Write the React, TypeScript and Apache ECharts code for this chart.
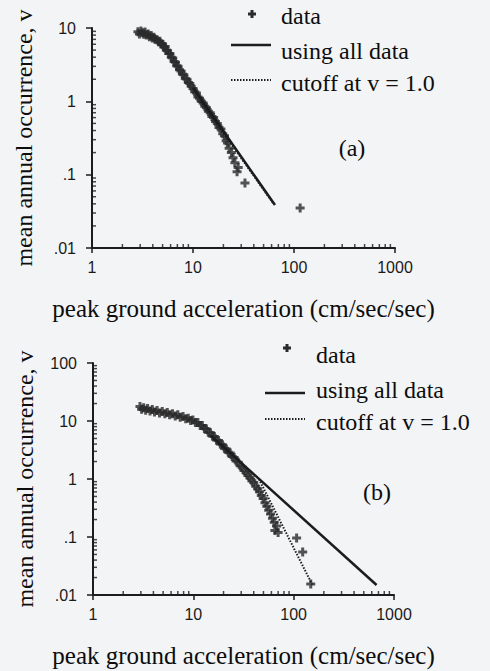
import React, { useEffect, useRef } from "react";
import * as echarts from "echarts";

// ---- Panel (a) data: peak ground acceleration (cm/sec/sec) vs mean annual occurrence ----
const topAccel = [
  2.85, 2.95, 3.05, 3.15, 3.25, 3.35, 3.45, 3.6, 3.7, 3.85, 3.95, 4.1, 4.2, 4.4, 4.55, 4.7,
  4.85, 5.0, 5.15, 5.3, 5.45, 5.6, 5.75, 5.9, 6.1, 6.3, 6.5, 6.7, 6.9, 7.1, 7.35, 7.6, 7.85,
  8.1, 8.4, 8.7, 9.0, 9.3, 9.6, 10.0, 10.4, 10.8, 11.2, 11.6, 12.1, 12.6, 13.1, 13.6, 14.2,
  14.8, 15.4, 16.0, 16.7, 17.4, 18.1, 18.9, 19.7, 20.5, 21.3, 22.0, 22.8, 24.0, 24.9, 26.0,
  27.3, 28.0, 32.7, 115,
];
const topRate = [
  8.9, 8.3, 9.1, 8.6, 8.2, 8.8, 8.0, 8.3, 7.6, 7.9, 7.3, 7.5, 7.0, 6.9, 6.5, 6.6,
  6.1, 5.9, 5.5, 5.6, 5.0, 4.9, 4.5, 4.5, 4.0, 3.9, 3.5, 3.4, 3.05, 3.0, 2.7, 2.6, 2.35,
  2.3, 2.05, 2.0, 1.8, 1.75, 1.6, 1.5, 1.35, 1.3, 1.15, 1.1, 1.0, 0.95, 0.86, 0.82, 0.73,
  0.7, 0.62, 0.6, 0.53, 0.5, 0.44, 0.42, 0.36, 0.34, 0.29, 0.27, 0.23, 0.2, 0.17, 0.145,
  0.11, 0.125, 0.077, 0.035,
];
const topFitAll = [[10, 1.53], [64.8, 0.0386]];
const topFitCutoff = [[12, 1.0], [62, 0.041]];

// ---- Panel (b) data ----
const botAccel = [
  2.94, 3.05, 3.2, 3.35, 3.5, 3.7, 3.9, 4.1, 4.35, 4.6, 4.9, 5.2, 5.5, 5.8, 6.2, 6.6, 7.0,
  7.4, 7.9, 8.4, 8.9, 9.4, 9.9, 10.5, 11.1, 11.7, 12.3, 12.9, 13.5, 14.1, 14.8, 15.5, 16.2,
  17.0, 17.8, 18.6, 19.5, 20.4, 21.3, 22.3, 23.3, 24.4, 25.5, 26.7, 28.0, 29.3, 30.6, 32.0,
  33.5, 35.0, 36.6, 38.3, 40.0, 41.8, 43.7, 45.6, 47.6, 49.6, 51.8, 54.0, 56.4, 58.8, 61.5,
  64.0, 65.0, 67.5, 70.0, 107, 123, 148,
];
const botRate = [
  17.8, 16.0, 17.0, 15.3, 16.4, 14.8, 15.8, 14.3, 15.2, 13.8, 14.6, 13.3, 14.0, 12.8, 13.4,
  12.2, 12.8, 11.6, 12.0, 10.9, 11.2, 10.2, 10.4, 9.4, 9.4, 8.4, 8.4, 7.4, 7.3, 6.4, 6.3,
  5.5, 5.4, 4.7, 4.6, 4.0, 3.9, 3.4, 3.3, 2.9, 2.8, 2.45, 2.35, 2.05, 1.95, 1.7, 1.6, 1.4,
  1.3, 1.15, 1.05, 0.93, 0.87, 0.75, 0.68, 0.6, 0.52, 0.46, 0.39, 0.34, 0.29, 0.25, 0.21,
  0.18, 0.13, 0.155, 0.12, 0.096, 0.055, 0.0155,
];
const botFitAll = [[15, 5.6], [670, 0.0149]];
const botFitCutoff = [[45, 1.0], [155, 0.0145]];

// ---- Axis tick labels ----
const xTickLabels = ["1", "10", "100", "1000"];
const yTickLabels = [".01", ".1", "1", "10", "100"];
const minorX = [2, 3, 4, 5, 6, 7, 8, 9, 20, 30, 40, 50, 60, 70, 80, 90, 200, 300, 400, 500, 600, 700, 800, 900];
const minorYTop = [0.02, 0.03, 0.04, 0.05, 0.06, 0.07, 0.08, 0.09, 0.2, 0.3, 0.4, 0.5, 0.6, 0.7, 0.8, 0.9, 2, 3, 4, 5, 6, 7, 8, 9];
const minorYBot = [...minorYTop, 20, 30, 40, 50, 60, 70, 80, 90];

const xTitle = "peak ground acceleration (cm/sec/sec)";
const yTitle = "mean annual occurrence, v";
const legendNames = ["data", "using all data", "cutoff at v = 1.0"];

const INK = "#1c1c1c";
const DOT = "#2b2b2b";
const TXT = "#0d0d0d";
const PLUS = "path://M3,0L6,0L6,3L9,3L9,6L6,6L6,9L3,9L3,6L0,6L0,3L3,3Z";
const SERIF = "Liberation Serif";
const SANS = "Liberation Sans";

const zip = (a: number[], b: number[]) => a.map((v, i) => [v, b[i]]);

function xAxisFor(gridIndex: number) {
  return {
    type: "log",
    logBase: 10,
    gridIndex,
    min: 1,
    max: 1000,
    name: xTitle,
    nameLocation: "middle",
    nameGap: 48,
    nameTextStyle: { fontFamily: SERIF, fontSize: 25, color: TXT },
    axisLine: { show: true, lineStyle: { color: INK, width: 2 } },
    axisTick: { show: true, inside: false, length: 5, lineStyle: { color: INK, width: 1.5 } },
    axisLabel: {
      fontFamily: SANS,
      fontSize: 16,
      color: "#1a1a1a",
      margin: 11,
      formatter: (v: number) => xTickLabels[Math.round(Math.log10(v))] ?? "",
    },
    splitLine: { show: false },
  };
}

function yAxisFor(gridIndex: number, min: number, max: number) {
  return {
    type: "log",
    logBase: 10,
    gridIndex,
    min,
    max,
    name: yTitle,
    nameLocation: "middle",
    nameGap: 56,
    nameTextStyle: { fontFamily: SERIF, fontSize: 24, color: TXT },
    axisLine: { show: true, lineStyle: { color: INK, width: 2 } },
    axisTick: { show: true, inside: false, length: 6, lineStyle: { color: INK, width: 1.5 } },
    axisLabel: {
      fontFamily: SANS,
      fontSize: 16,
      color: "#1a1a1a",
      margin: 16,
      formatter: (v: number) => yTickLabels[Math.round(Math.log10(v)) + 2] ?? "",
    },
    splitLine: { show: false },
  };
}

function panelSeries(idx: number, accel: number[], rate: number[], fitAll: number[][], fitCut: number[][], yMin: number, minorY: number[]) {
  return [
    {
      name: legendNames[0],
      type: "scatter",
      xAxisIndex: idx,
      yAxisIndex: idx,
      data: zip(accel, rate),
      symbol: PLUS,
      symbolSize: 9,
      itemStyle: { color: DOT },
      clip: false,
      z: 3,
    },
    {
      name: legendNames[1],
      type: "line",
      xAxisIndex: idx,
      yAxisIndex: idx,
      data: fitAll,
      showSymbol: false,
      symbol: "none",
      lineStyle: { color: INK, width: 2.5, type: "solid" },
      z: 4,
    },
    {
      name: legendNames[2],
      type: "line",
      xAxisIndex: idx,
      yAxisIndex: idx,
      data: fitCut,
      showSymbol: false,
      symbol: "none",
      lineStyle: { color: INK, width: 2, type: [1.5, 1.5] },
      z: 4,
    },
    {
      type: "scatter",
      xAxisIndex: idx,
      yAxisIndex: idx,
      data: minorX.map((v) => [v, yMin]),
      symbol: "rect",
      symbolSize: [1.5, 4],
      symbolOffset: [0, -2],
      itemStyle: { color: INK },
      clip: false,
      silent: true,
      z: 5,
    },
    {
      type: "scatter",
      xAxisIndex: idx,
      yAxisIndex: idx,
      data: minorY.map((v) => [1, v]),
      symbol: "rect",
      symbolSize: [4, 1.5],
      symbolOffset: [2, 0],
      itemStyle: { color: INK },
      clip: false,
      silent: true,
      z: 5,
    },
  ];
}

function legendGraphics(px: number, py: number, lineX1: number, lineX2: number, textX: number, solidY: number, dotY: number, ys: number[], tag: string, tagX: number, tagY: number) {
  const txt = (text: string, x: number, y: number, align = "left") => ({
    type: "text",
    x,
    y,
    style: { text, fontFamily: SERIF, fontSize: 24, fill: TXT, textAlign: align, textVerticalAlign: "middle" },
  });
  return [
    { type: "rect", shape: { x: px - 4, y: py - 1.5, width: 8, height: 3 }, style: { fill: DOT } },
    { type: "rect", shape: { x: px - 1.5, y: py - 4, width: 3, height: 8 }, style: { fill: DOT } },
    { type: "line", shape: { x1: lineX1, y1: solidY, x2: lineX2, y2: solidY }, style: { stroke: INK, lineWidth: 2.5 } },
    { type: "line", shape: { x1: lineX1, y1: dotY, x2: lineX2, y2: dotY }, style: { stroke: INK, lineWidth: 2, lineDash: [1.5, 1.5] } },
    txt(legendNames[0], textX, ys[0]),
    txt(legendNames[1], textX, ys[1]),
    txt(legendNames[2], textX, ys[2]),
    txt(tag, tagX, tagY, "center"),
  ];
}

export default function App() {
  const ref = useRef<HTMLDivElement>(null);
  useEffect(() => {
    if (!ref.current) return;
    const chart = echarts.init(ref.current, null, { renderer: "svg" });
    chart.setOption({
      animation: false,
      backgroundColor: "#f3f4f6",
      grid: [
        { left: 92, top: 28, width: 303, height: 220 },
        { left: 93, top: 363, width: 301, height: 232 },
      ],
      xAxis: [xAxisFor(0), xAxisFor(1)],
      yAxis: [yAxisFor(0, 0.01, 10), yAxisFor(1, 0.01, 100)],
      series: [
        ...panelSeries(0, topAccel, topRate, topFitAll, topFitCutoff, 0.01, minorYTop),
        ...panelSeries(1, botAccel, botRate, botFitAll, botFitCutoff, 0.01, minorYBot),
      ],
      graphic: [
        ...legendGraphics(252, 14, 231, 271, 281, 45, 80, [16, 51, 83], "(a)", 352, 148),
        ...legendGraphics(287, 348, 265, 305, 316, 393, 419, [355, 390, 422], "(b)", 377, 492),
      ],
    });
    return () => chart.dispose();
  }, []);
  return <div ref={ref} style={{ position: "absolute", left: 0, top: 0, width: 490, height: 671 }} />;
}
